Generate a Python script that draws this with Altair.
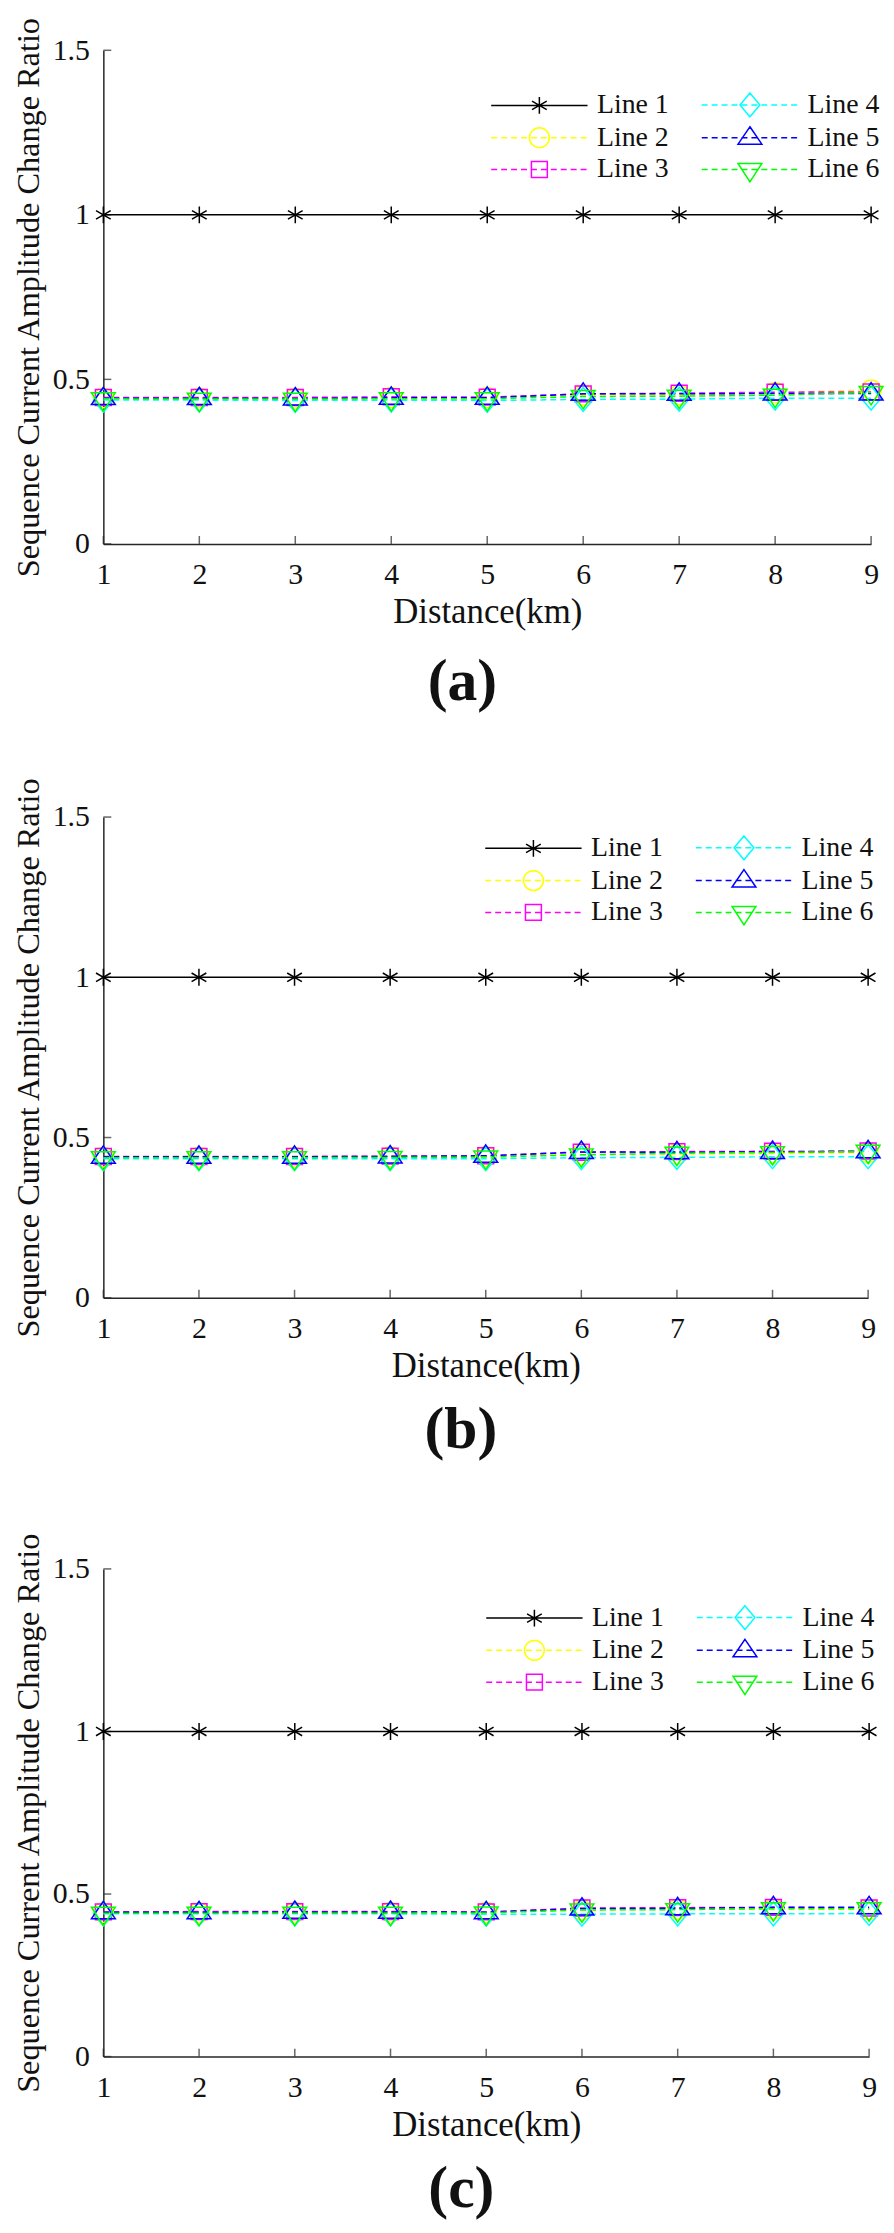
import altair as alt
import pandas as pd

# ---------------- data ----------------
distance = [1, 2, 3, 4, 5, 6, 7, 8, 9]
series_names = ["Line 1", "Line 2", "Line 3", "Line 4", "Line 5", "Line 6"]
panel_labels = ["(a)", "(b)", "(c)"]

# panel (a)
a_line1 = [1.0, 1.0, 1.0, 1.0, 1.0, 1.0, 1.0, 1.0, 1.0]
a_line2 = [0.444, 0.444, 0.443, 0.445, 0.445, 0.452, 0.453, 0.460, 0.468]
a_line3 = [0.445, 0.445, 0.445, 0.447, 0.446, 0.456, 0.458, 0.461, 0.462]
a_line4 = [0.437, 0.437, 0.436, 0.437, 0.436, 0.439, 0.440, 0.443, 0.443]
a_line5 = [0.443, 0.443, 0.442, 0.444, 0.444, 0.456, 0.456, 0.457, 0.457]
a_line6 = [0.441, 0.440, 0.440, 0.441, 0.441, 0.448, 0.449, 0.452, 0.460]

# panel (b)
b_line1 = [1.0, 1.0, 1.0, 1.0, 1.0, 1.0, 1.0, 1.0, 1.0]
b_line2 = [0.439, 0.439, 0.439, 0.440, 0.441, 0.447, 0.448, 0.450, 0.453]
b_line3 = [0.441, 0.441, 0.441, 0.442, 0.443, 0.454, 0.456, 0.457, 0.458]
b_line4 = [0.434, 0.434, 0.434, 0.434, 0.434, 0.437, 0.438, 0.440, 0.440]
b_line5 = [0.440, 0.440, 0.440, 0.441, 0.443, 0.455, 0.454, 0.455, 0.457]
b_line6 = [0.437, 0.437, 0.437, 0.438, 0.439, 0.446, 0.451, 0.453, 0.457]

# panel (c)
c_line1 = [1.0, 1.0, 1.0, 1.0, 1.0, 1.0, 1.0, 1.0, 1.0]
c_line2 = [0.443, 0.443, 0.444, 0.444, 0.444, 0.450, 0.453, 0.454, 0.453]
c_line3 = [0.445, 0.446, 0.446, 0.446, 0.445, 0.457, 0.458, 0.459, 0.457]
c_line4 = [0.439, 0.439, 0.439, 0.439, 0.438, 0.438, 0.439, 0.439, 0.440]
c_line5 = [0.444, 0.444, 0.445, 0.445, 0.444, 0.455, 0.456, 0.459, 0.459]
c_line6 = [0.441, 0.441, 0.441, 0.441, 0.442, 0.451, 0.452, 0.455, 0.455]

panel_values = [
    [a_line1, a_line2, a_line3, a_line4, a_line5, a_line6],
    [b_line1, b_line2, b_line3, b_line4, b_line5, b_line6],
    [c_line1, c_line2, c_line3, c_line4, c_line5, c_line6],
]

y_tick_values = [0, 0.5, 1, 1.5]
x_tick_values = [1, 2, 3, 4, 5, 6, 7, 8, 9]

# ---------------- styles ----------------
series_colors = ["#000000", "#FFFF00", "#FF00FF", "#00FFFF", "#0000FF", "#00FF00"]
series_dash = [[1, 0], [6, 4], [6, 4], [6, 4], [6, 4], [6, 4]]
marker_paths = [
    "M0,-0.85L0,0.85M-0.74,-0.43L0.74,0.43M-0.74,0.43L0.74,-0.43",
    "M1,0A1,1,0,1,1,-1,0A1,1,0,1,1,1,0Z",
    "M-0.8,-0.8L0.8,-0.8L0.8,0.8L-0.8,0.8Z",
    "M0,-1.2L1,0L0,1.2L-1,0Z",
    "M0,-1.1L1.2,0.65L-1.2,0.65Z",
    "M0,1.25L1.2,-0.6L-1.2,-0.6Z",
]


def seg_path(x0, x1):
    return "M%.2f,0L%.2f,0" % (x0, x1)


def dashed_path(half, dash, gap):
    parts = []
    x = -half
    while x < half:
        parts.append(seg_path(x, min(x + dash, half)))
        x += dash + gap
    return "".join(parts)


solid_line = seg_path(-4.85, 4.85)
dash_line = dashed_path(4.85, 0.6, 0.4)
legend_paths = [
    (solid_line if i == 0 else dash_line) + marker_paths[i]
    for i in range(len(series_names))
]

FONT = "Liberation Serif"
AX = "#262626"

xscale = alt.Scale(domain=[1, 9], nice=False, zero=False)
yscale = alt.Scale(domain=[0, 1.5], nice=False, zero=True)

color_scale = alt.Scale(domain=series_names, range=series_colors)
dash_scale = alt.Scale(domain=series_names, range=series_dash)
shape_scale = alt.Scale(domain=series_names, range=marker_paths)
leg_shape_scale = alt.Scale(domain=series_names, range=legend_paths)

xaxis = alt.Axis(
    title="Distance(km)", values=x_tick_values, format="d", ticks=False,
    grid=False, domainColor=AX, domainWidth=1.5, labelFont=FONT,
    labelFontSize=30, labelColor="#111", labelPadding=16, labelFlush=False,
    labelOverlap=False, titleFont=FONT, titleFontSize=35,
    titleFontWeight="normal", titleColor="#111", titlePadding=5,
)
yaxis = alt.Axis(
    title="Sequence Current Amplitude Change Ratio", values=y_tick_values,
    labelExpr="'' + datum.value", ticks=False, grid=False, domainColor=AX,
    domainWidth=1.5, labelFont=FONT, labelFontSize=30, labelColor="#111",
    labelPadding=14, labelFlush=False, labelOverlap=False, titleFont=FONT,
    titleFontSize=32.5, titleFontWeight="normal", titleColor="#111",
    titlePadding=7,
)


def make_legend(lx, ly):
    return alt.Legend(
        title=None, orient="none", legendX=lx, legendY=ly, columns=2,
        columnPadding=29, rowPadding=4, padding=0, labelFont=FONT,
        labelFontSize=28, labelColor="#111", symbolSize=400,
        symbolStrokeWidth=1.5, symbolOffset=33, labelOffset=44,
        symbolFillColor="transparent", symbolOpacity=1,
    )


widths = [773, 770, 771]
heights = [497, 484, 491]
legend_xy = [(392, 41), (386, 17), (387, 35)]
title_offsets = [24, 18, 18]

ytick_df = pd.DataFrame({"value": y_tick_values,
                         "distance": [x_tick_values[0]] * len(y_tick_values)})
xtick_df = pd.DataFrame({"distance": x_tick_values,
                         "value": [y_tick_values[0]] * len(x_tick_values)})
leg_df = pd.DataFrame({"series_leg": series_names})

panels = []
for p, label in enumerate(panel_labels):
    rows = []
    for s, vals in zip(series_names, panel_values[p]):
        for d, v in zip(distance, vals):
            rows.append({"distance": d, "value": v, "series": s})
    df = pd.DataFrame(rows)
    legend = make_legend(*legend_xy[p])

    base = alt.Chart(df).encode(
        x=alt.X("distance:Q", scale=xscale, axis=xaxis),
        y=alt.Y("value:Q", scale=yscale, axis=yaxis),
        color=alt.Color("series:N", scale=color_scale, legend=None),
    )
    lines = base.mark_line(strokeWidth=1.5).encode(
        strokeDash=alt.StrokeDash("series:N", scale=dash_scale, legend=None)
    )
    points = base.mark_point(filled=False, size=400, strokeWidth=1.5, opacity=1).encode(
        shape=alt.Shape("series:N", scale=shape_scale, legend=None)
    )
    leg_layer = (
        alt.Chart(leg_df)
        .transform_filter("false")
        .mark_point(filled=False, size=400, strokeWidth=1.5, opacity=1)
        .encode(
            color=alt.Color("series_leg:N", scale=color_scale, legend=legend),
            shape=alt.Shape("series_leg:N", scale=leg_shape_scale, legend=legend),
        )
    )
    yticks = alt.Chart(ytick_df).mark_tick(
        orient="horizontal", size=8, thickness=1.5, xOffset=4, color=AX
    ).encode(x=alt.X("distance:Q", scale=xscale), y=alt.Y("value:Q", scale=yscale))
    xticks = alt.Chart(xtick_df).mark_tick(
        orient="vertical", size=8, thickness=1.5, yOffset=-4, color=AX
    ).encode(x=alt.X("distance:Q", scale=xscale), y=alt.Y("value:Q", scale=yscale))

    panel = (
        alt.layer(yticks, xticks, lines, points, leg_layer)
        .resolve_scale(color="independent", shape="independent")
        .properties(
            width=widths[p], height=heights[p],
            title=alt.TitleParams(
                label, orient="bottom", anchor="middle", dx=-25,
                offset=title_offsets[p], font=FONT, fontSize=60,
                fontWeight="bold", color="#111",
            ),
        )
    )
    panels.append(panel)

top_pair = alt.vconcat(panels[0], panels[1], spacing=65).resolve_scale(
    color="independent", shape="independent"
)
chart = (
    alt.vconcat(top_pair, panels[2], spacing=72)
    .resolve_scale(color="independent", shape="independent")
    .configure_view(stroke=None)
    .properties(padding={"left": 4, "top": 0, "right": 0, "bottom": 0},
                background="white")
)

chart.save("out.html", embed_options={"renderer": "svg", "actions": False})
